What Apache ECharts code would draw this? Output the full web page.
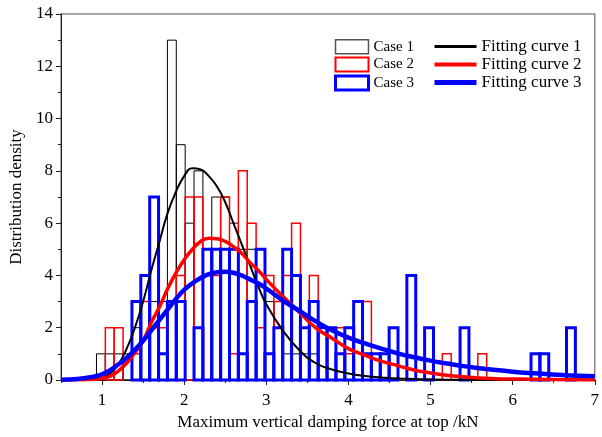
<!DOCTYPE html>
<html>
<head>
<meta charset="utf-8">
<script src="https://cdn.jsdelivr.net/npm/echarts@6/dist/echarts.min.js"></script>
<style>
  html, body { margin: 0; padding: 0; background: #fff; }
  #chart { width: 602px; height: 437px; }
</style>
</head>
<body>
<div id="chart"></div>
<script>
// histogram bins (kN)
const binStart = 0.932
const binWidth = 0.108

const case1 = [1,1,1,1,2,4,3,3,13,9,6,8,5,7,7,6,5,5,5,3,3,1,1,1,1,
  0,0,0,0,0,0,0,0,0,0,0,0,0,0,0,0,0,0,0,0,0,0,0,0,0,0,0,0,0]
const case2 = [0,2,2,0,1,3,2,2,3,4,7,7,4,4,7,1,8,6,2,4,3,4,6,2,4,2,2,2,1,0,3,
  0,0,0,0,0,0,0,0,1,0,0,0,1,0,0,0,0,0,0,0,0,0,0]
const case3 = [0,0,0,0,3,4,7,1,3,3,0,2,5,5,5,5,1,3,5,1,2,5,4,2,3,2,2,1,2,3,1,1,1,2,
  0,4,0,2,0,0,0,2,0,0,0,0,0,0,0,1,1,0,0,2]

// fitted curves
const fitX = [0.5,0.7,0.9,1.0,1.1,1.2,1.3,1.4,1.5,1.6,1.7,1.8,1.9,2.0,2.1,2.2,2.3,2.4,2.5,2.6,2.7,2.8,2.9,3.0,
  3.2,3.4,3.6,3.8,4.0,4.2,4.4,4.6,4.8,5.0,5.2,5.4,5.6,5.8,6.0,6.2,6.4,6.6,6.8,7.0]
const fit1 = [0,0,0.03,0.08,0.25,0.6,1.2,2.0,3.0,4.2,5.3,6.4,7.2,7.8,8.1,8.05,7.8,7.4,6.8,6.0,5.2,4.4,3.6,2.9,
  1.9,1.15,0.65,0.4,0.25,0.15,0.1,0.06,0.04,0.02,0.01,0.01,0,0,0,0,0,0,0,0]
const fit2 = [0,0.01,0.03,0.07,0.15,0.35,0.65,1.05,1.5,2.2,2.8,3.5,4.1,4.6,5.0,5.3,5.42,5.4,5.3,5.1,4.85,4.5,4.2,3.85,
  3.2,2.6,2.0,1.6,1.2,0.95,0.72,0.55,0.38,0.27,0.18,0.12,0.08,0.05,0.04,0.03,0.02,0.01,0.01,0]
const fit3 = [0.01,0.04,0.13,0.22,0.38,0.6,0.85,1.15,1.5,1.9,2.3,2.7,3.1,3.45,3.7,3.9,4.05,4.12,4.14,4.1,4.0,3.85,3.7,3.5,
  3.05,2.65,2.25,1.9,1.62,1.4,1.2,1.02,0.87,0.74,0.63,0.53,0.45,0.38,0.32,0.27,0.23,0.19,0.16,0.14]

const xTicks = [1,2,3,4,5,6,7]
const xMinorTicks = [0.5,1.5,2.5,3.5,4.5,5.5,6.5]

const font = 'Liberation Serif'

function binData(counts) {
  return counts.map((v, k) => [binStart + k * binWidth, v])
}

function histSeries(name, counts, color, width) {
  return {
    name: name,
    type: 'custom',
    data: binData(counts),
    itemStyle: { color: color },
    renderItem: function (params, api) {
      const x0 = api.value(0)
      const v = api.value(1)
      if (!v) return null
      const p0 = api.coord([x0, 0])
      const p1 = api.coord([x0 + binWidth, v])
      return {
        type: 'rect',
        shape: { x: p0[0], y: p1[1], width: p1[0] - p0[0], height: p0[1] - p1[1] },
        style: { fill: 'none', stroke: color, lineWidth: width }
      }
    }
  }
}

function curveSeries(name, ys, color, width) {
  return {
    name: name,
    type: 'line',
    data: fitX.map((x, i) => [x, ys[i]]),
    symbol: 'none',
    smooth: true,
    lineStyle: { color: color, width: width },
    itemStyle: { color: color }
  }
}

const chart = echarts.init(document.getElementById('chart'))

chart.setOption({
  animation: false,
  backgroundColor: '#fff',
  grid: {
    left: 61, right: 2, top: 14, bottom: 57,
    show: true, borderColor: '#888', borderWidth: 1.5
  },
  legend: [{
    orient: 'vertical',
    left: 334, top: 39, padding: 0,
    itemWidth: 33, itemHeight: 14, itemGap: 2,
    textStyle: { fontFamily: font, fontSize: 15, lineHeight: 14, color: '#000' },
    data: [
      { name: 'Case 1', icon: 'rect', itemStyle: { color: '#fff', borderColor: '#555', borderWidth: 1.5 } },
      { name: 'Case 2', icon: 'rect', itemStyle: { color: '#fff', borderColor: '#f00', borderWidth: 2 } },
      { name: 'Case 3', icon: 'rect', itemStyle: { color: '#fff', borderColor: '#00f', borderWidth: 3 } }
    ]
  }, {
    orient: 'vertical',
    left: 432, top: 38, padding: 0,
    itemWidth: 42, itemHeight: 14, itemGap: 1,
    itemStyle: { opacity: 0 },
    textStyle: { fontFamily: font, fontSize: 17, lineHeight: 14, color: '#000' },
    data: [
      { name: 'Fitting curve 1', lineStyle: { width: 3 } },
      { name: 'Fitting curve 2', lineStyle: { width: 4 } },
      { name: 'Fitting curve 3', lineStyle: { width: 5 } }
    ]
  }],
  xAxis: [{
    type: 'value',
    min: 0.5, max: 7,
    name: 'Maximum vertical damping force at top /kN',
    nameLocation: 'middle',
    nameGap: 34,
    nameTextStyle: { fontFamily: font, fontSize: 17, color: '#000' },
    axisLine: { show: true, lineStyle: { color: '#222', width: 1 } },
    axisTick: { show: true, length: 5, customValues: xTicks, lineStyle: { color: '#222' } },
    axisLabel: { customValues: xTicks, fontFamily: font, fontSize: 17, color: '#000', margin: 12 },
    splitLine: { show: false }
  }, {
    type: 'value',
    min: 0.5, max: 7,
    position: 'bottom',
    axisLine: { show: false },
    axisTick: { show: true, length: 3, customValues: xMinorTicks, lineStyle: { color: '#222' } },
    axisLabel: { show: false },
    splitLine: { show: false }
  }],
  yAxis: {
    type: 'value',
    min: 0, max: 14, interval: 2,
    name: 'Distribution density',
    nameLocation: 'middle',
    nameGap: 34,
    nameTextStyle: { fontFamily: font, fontSize: 17, color: '#000' },
    axisLine: { show: true, lineStyle: { color: '#222', width: 1 } },
    axisTick: { show: true, length: 5, lineStyle: { color: '#222' } },
    minorTick: { show: true, splitNumber: 2, length: 3, lineStyle: { color: '#222' } },
    axisLabel: { fontFamily: font, fontSize: 17, color: '#000', margin: 8 },
    splitLine: { show: false }
  },
  series: [
    histSeries('Case 1', case1, '#000', 1),
    histSeries('Case 2', case2, '#f00', 1.5),
    histSeries('Case 3', case3, '#00f', 3),
    curveSeries('Fitting curve 1', fit1, '#000', 2),
    curveSeries('Fitting curve 2', fit2, '#f00', 3.5),
    curveSeries('Fitting curve 3', fit3, '#00f', 4.5)
  ]
})
</script>
</body>
</html>
